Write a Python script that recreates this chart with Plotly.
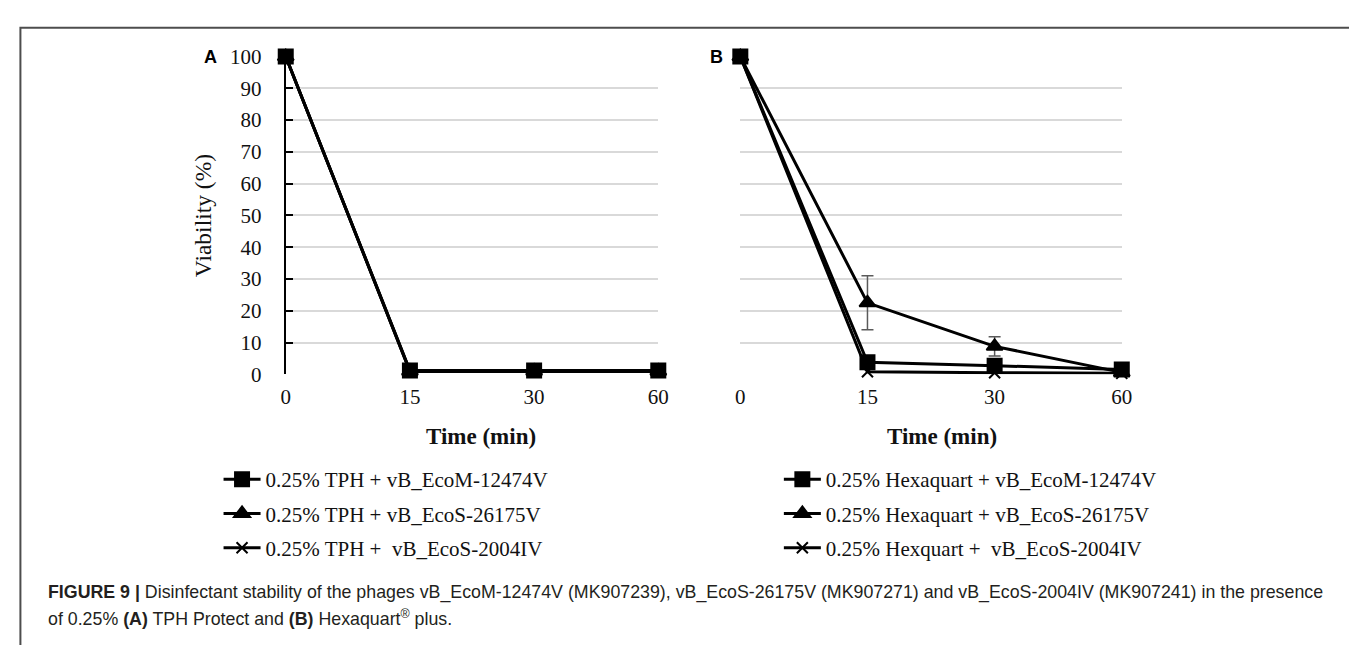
import plotly.graph_objects as go

W, H = 1357, 645

time_labels = ["0", "15", "30", "60"]

tph_names = ["0.25% TPH + vB_EcoM-12474V",
             "0.25% TPH + vB_EcoS-26175V",
             "0.25% TPH +  vB_EcoS-2004IV"]
tph_12474 = [100, 1.2, 1.2, 1.2]
tph_26175 = [100, 1.0, 1.0, 1.0]
tph_2004 = [100, 0.9, 0.9, 0.9]

hexa_names = ["0.25% Hexaquart + vB_EcoM-12474V",
              "0.25% Hexaquart + vB_EcoS-26175V",
              "0.25% Hexquart +  vB_EcoS-2004IV"]
hexa_12474 = [100, 3.8, 2.7, 1.5]
hexa_26175 = [100, 22.5, 8.8, 0.6]
hexa_26175_err = [0, 8.5, 3.0, 0]
hexa_2004 = [100, 0.8, 0.5, 0.3]

y_ticks = [0, 10, 20, 30, 40, 50, 60, 70, 80, 90, 100]

SERIF = "Liberation Serif, Times New Roman, serif"
SANS = "Liberation Sans, Arial, sans-serif"


def px(x):
    return x / W


def py(y):
    return 1 - y / H


fig = go.Figure()

symbols = ["square", "triangle-up", "x-thin"]
sizes = [14, 14, 11]
ranks = [1, 2, 3]

panelA = [tph_12474, tph_26175, tph_2004]
panelB = [hexa_12474, hexa_26175, hexa_2004]

# draw in reverse order so squares sit on top
for i in [2, 1, 0]:
    fig.add_trace(go.Scatter(
        x=time_labels, y=panelA[i], name=tph_names[i], mode="lines+markers",
        line=dict(color="black", width=3),
        marker=dict(symbol=symbols[i], size=sizes[i], color="black",
                    line=dict(color="black", width=2)),
        cliponaxis=False, legend="legend", legendrank=ranks[i],
        legendgroup="a%d" % i, xaxis="x", yaxis="y"))

for i in [2, 1, 0]:
    err = None
    if i == 1:
        err = dict(type="data", array=hexa_26175_err, visible=True,
                   color="#5a5a5a", thickness=1.5, width=6)
    fig.add_trace(go.Scatter(
        x=time_labels, y=panelB[i], name=hexa_names[i], mode="lines+markers",
        line=dict(color="black", width=3),
        marker=dict(symbol=symbols[i], size=sizes[i], color="black",
                    line=dict(color="black", width=2)),
        error_y=err,
        cliponaxis=False, legend="legend2", legendrank=ranks[i],
        legendgroup="b%d" % i, xaxis="x2", yaxis="y2"))

grid = "#d9d9d9"
tickfont = dict(family=SERIF, size=21, color="#111111")

common_x = dict(type="category", range=[0, 3], showgrid=False, zeroline=False,
                showline=False, ticks="", tickfont=tickfont, ticklabelstandoff=8,
                fixedrange=True)
common_y = dict(range=[0, 100], tickvals=y_ticks, showgrid=True, gridcolor=grid,
                gridwidth=1.5, zeroline=False, tickfont=tickfont, fixedrange=True)

fig.update_layout(
    width=W, height=H,
    margin=dict(l=0, r=0, t=0, b=0),
    paper_bgcolor="white", plot_bgcolor="white",
    xaxis=dict(domain=[px(276), px(653)], anchor="y", **common_x),
    yaxis=dict(domain=[py(368), py(38)], anchor="x", showline=True, linecolor="black",
               linewidth=2, ticks="inside", ticklen=7, tickwidth=2, tickcolor="black",
               ticklabelstandoff=18, showticklabels=True, **common_y),
    xaxis2=dict(domain=[px(736), px(1122)], anchor="y2", **common_x),
    yaxis2=dict(domain=[py(368), py(38)], anchor="x2", showline=False,
                showticklabels=False, ticks="", **common_y),
    legend=dict(x=px(208), y=py(456), xanchor="left", yanchor="top",
                font=dict(family=SERIF, size=21, color="#111111"),
                bgcolor="rgba(0,0,0,0)", tracegroupgap=4, itemwidth=37,
                traceorder="grouped"),
    legend2=dict(x=px(775), y=py(456), xanchor="left", yanchor="top",
                 font=dict(family=SERIF, size=21, color="#111111"),
                 bgcolor="rgba(0,0,0,0)", tracegroupgap=4, itemwidth=37,
                 traceorder="grouped"),
    showlegend=True,
)

annotations = [
    dict(text="<b>Time (min)</b>", x=px(474), y=py(433),
         font=dict(family=SERIF, size=23, color="#111111")),
    dict(text="<b>Time (min)</b>", x=px(940), y=py(433),
         font=dict(family=SERIF, size=23, color="#111111")),
    dict(text="Viability (%)", x=px(193), y=py(203), textangle=-90,
         font=dict(family=SERIF, size=23.5, color="#111111")),
    dict(text="<b>A</b>", x=px(200), y=py(38), font=dict(family=SANS, size=18, color="black")),
    dict(text="<b>B</b>", x=px(712), y=py(38), font=dict(family=SANS, size=18, color="black")),
    dict(text="<b>FIGURE 9 |</b> Disinfectant stability of the phages vB_EcoM-12474V (MK907239), "
              "vB_EcoS-26175V (MK907271) and vB_EcoS-2004IV (MK907241) in the presence",
         x=px(33), y=py(595), xanchor="left", font=dict(family=SANS, size=17.8, color="#231f20")),
    dict(text="of 0.25% <b>(A)</b> TPH Protect and <b>(B)</b> Hexaquart<sup>®</sup> plus.",
         x=px(33), y=py(621), xanchor="left", font=dict(family=SANS, size=17.8, color="#231f20")),
]
for a in annotations:
    a.setdefault("xanchor", "center")
    a.update(xref="paper", yref="paper", yanchor="middle", showarrow=False)
fig.update_layout(annotations=annotations)

fig.add_shape(type="rect", xref="paper", yref="paper",
              x0=px(7.5), x1=px(1354.5), y0=-0.2, y1=py(8),
              line=dict(color="#4d4d4d", width=2), fillcolor="rgba(0,0,0,0)", layer="below")

fig.write_html("out.html")
